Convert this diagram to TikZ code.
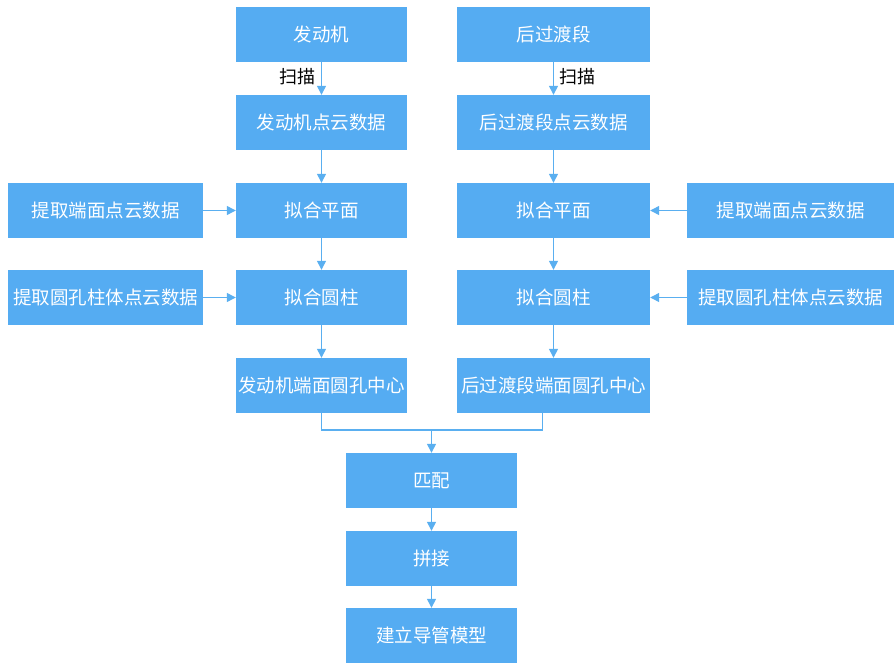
\documentclass[tikz,border=0pt]{standalone}
\usepackage{fontspec}
\newfontfamily\cjk{Noto Sans CJK SC}
\usetikzlibrary{arrows.meta}
\definecolor{boxblue}{RGB}{85,172,242}
\definecolor{lineblue}{RGB}{90,175,240}
\begin{document}
\begin{tikzpicture}[x=1pt,y=-1pt,
  stepbox/.style={draw=none,fill=boxblue,minimum height=55pt,inner sep=0pt,
    text=white,font=\cjk\fontsize{18.5}{22}\selectfont,anchor=center},
  flow/.style={draw=lineblue,line width=1.3pt,-{Triangle[length=9pt,width=9pt]}},
  link/.style={draw=lineblue,line width=1.3pt},
  lbl/.style={font=\cjk\fontsize{18}{22}\selectfont,text=black}]
\useasboundingbox (0,0) rectangle (895,664);
% left column
\node[stepbox,minimum width=171pt] (e1) at (321.5,34.5) {发动机};
\node[stepbox,minimum width=171pt] (e2) at (321.5,122.5) {发动机点云数据};
\node[stepbox,minimum width=171pt] (e3) at (321.5,210.5) {拟合平面};
\node[stepbox,minimum width=171pt] (e4) at (321.5,297.5) {拟合圆柱};
\node[stepbox,minimum width=171pt] (e5) at (321.5,385.5) {发动机端面圆孔中心};
% right column
\node[stepbox,minimum width=193pt] (t1) at (553.5,34.5) {后过渡段};
\node[stepbox,minimum width=193pt] (t2) at (553.5,122.5) {后过渡段点云数据};
\node[stepbox,minimum width=193pt] (t3) at (553.5,210.5) {拟合平面};
\node[stepbox,minimum width=193pt] (t4) at (553.5,297.5) {拟合圆柱};
\node[stepbox,minimum width=193pt] (t5) at (553.5,385.5) {后过渡段端面圆孔中心};
% side inputs
\node[stepbox,minimum width=195pt] (le3) at (105.5,210.5) {提取端面点云数据};
\node[stepbox,minimum width=195pt] (le4) at (105.5,297.5) {提取圆孔柱体点云数据};
\node[stepbox,minimum width=207pt] (rt3) at (790.5,210.5) {提取端面点云数据};
\node[stepbox,minimum width=207pt] (rt4) at (790.5,297.5) {提取圆孔柱体点云数据};
% bottom chain
\node[stepbox,minimum width=171pt] (m1) at (431.5,480.5) {匹配};
\node[stepbox,minimum width=171pt] (m2) at (431.5,558.5) {拼接};
\node[stepbox,minimum width=171pt] (m3) at (431.5,635.5) {建立导管模型};
% vertical flows
\draw[flow] (e1) -- node[lbl,left=2pt,pos=0.45] {扫描} (e2);
\draw[flow] (t1) -- node[lbl,right=2pt,pos=0.45] {扫描} (t2);
\draw[flow] (e2) -- (e3);
\draw[flow] (e3) -- (e4);
\draw[flow] (e4) -- (e5);
\draw[flow] (t2) -- (t3);
\draw[flow] (t3) -- (t4);
\draw[flow] (t4) -- (t5);
% horizontal inputs
\draw[flow] (le3) -- (e3);
\draw[flow] (le4) -- (e4);
\draw[flow] (rt3) -- (t3);
\draw[flow] (rt4) -- (t4);
% merge
\coordinate (jn) at (431.5,430);
\draw[link] (e5.south) |- (jn);
\draw[link] ([xshift=-11pt]t5.south) |- (jn);
\draw[flow] (jn) -- (m1);
\draw[flow] (m1) -- (m2);
\draw[flow] (m2) -- (m3);
\end{tikzpicture}
\end{document}
